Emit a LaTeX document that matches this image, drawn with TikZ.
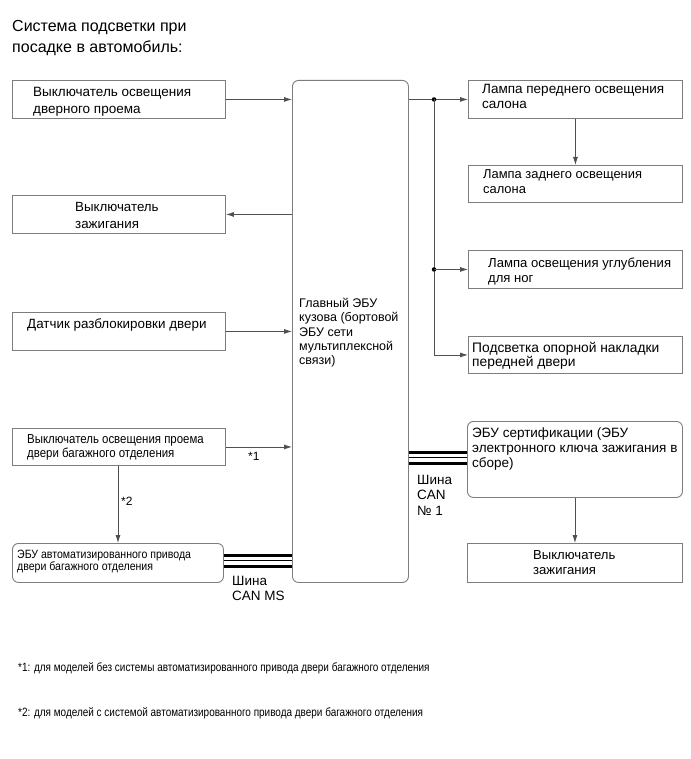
\documentclass[tikz,border=0pt]{standalone}
\usepackage{fontspec}
\setmainfont{Liberation Sans}
\newfontfamily\narrowfont[FakeStretch=0.88]{Liberation Sans}
\newfontfamily\notefont[FakeStretch=0.83]{Liberation Sans}
\usetikzlibrary{arrows.meta}
\definecolor{boxgray}{RGB}{125,125,125}
\definecolor{linegray}{RGB}{80,80,80}
\begin{document}
\begin{tikzpicture}[x=1pt,y=-1pt,
  box/.style={draw=boxgray, line width=0.9pt, anchor=north west, inner sep=0pt},
  rbox/.style={box, rounded corners=6pt},
  txt/.style={anchor=north west, inner sep=0pt, align=left, yshift=-1.5pt, font=\fontsize{13.5}{15}\selectfont},
  arr/.style={draw=linegray, line width=0.8pt, -{Latex[length=8pt,width=5pt]}},
  ln/.style={draw=linegray, line width=0.8pt},
  busthick/.style={draw=black, line width=3pt},
  busthin/.style={draw=black, line width=1pt},
  dot/.style={circle, fill=black, inner sep=0pt, minimum size=4.5pt}
]
\useasboundingbox[fill=white] (0,0) rectangle (690,759);

% title
\node[txt, font=\fontsize{16}{21.5}\selectfont] (title) at (12,18.3) {Система подсветки при\\посадке в автомобиль:};

% left boxes
\node[box, minimum width=213pt, minimum height=38pt] (b1) at (12,80) {};
\node[txt, font=\fontsize{13.5}{17}\selectfont] (b1t) at (33,85.3) {Выключатель освещения\\дверного проема};

\node[box, minimum width=213pt, minimum height=38pt] (li) at (12,195) {};
\node[txt, font=\fontsize{13.3}{17}\selectfont] (lit) at (75,200.4) {Выключатель\\зажигания};

\node[box, minimum width=213pt, minimum height=38pt] (du) at (12,312) {};
\node[txt, font=\fontsize{13.4}{15}\selectfont] (dut) at (27,317.4) {Датчик разблокировки двери};

\node[box, minimum width=213pt, minimum height=37pt] (lg) at (12,428) {};
\node[txt, font=\narrowfont\fontsize{13}{14}\selectfont] (lgt) at (27,432.5) {Выключатель освещения проема\\двери багажного отделения};

\node[rbox, minimum width=211pt, minimum height=39pt] (pd) at (12,543) {};
\node[txt, font=\narrowfont\fontsize{12}{12.5}\selectfont] (pdt) at (17,548) {ЭБУ автоматизированного привода\\двери багажного отделения};

% central ECU
\node[rbox, minimum width=116pt, minimum height=502pt] (ecu) at (292,80) {};
\node[txt, font=\fontsize{12.5}{14.3}\selectfont] (ecut) at (299,296.7) {Главный ЭБУ\\кузова (бортовой\\ЭБУ сети\\мультиплексной\\связи)};

% right boxes
\node[box, minimum width=214pt, minimum height=38pt] (lf) at (468,80) {};
\node[txt, font=\fontsize{13.5}{15}\selectfont] (lft) at (482,82.3) {Лампа переднего освещения\\салона};

\node[box, minimum width=214pt, minimum height=37pt] (lr) at (468,165) {};
\node[txt, font=\fontsize{12.9}{15}\selectfont] (lrt) at (483,167.6) {Лампа заднего освещения\\салона};

\node[box, minimum width=214pt, minimum height=38pt] (fw) at (468,250) {};
\node[txt, font=\fontsize{13.1}{15}\selectfont] (fwt) at (488,256.5) {Лампа освещения углубления\\для ног};

\node[box, minimum width=214pt, minimum height=37pt] (ps) at (468,336) {};
\node[txt, font=\fontsize{13.8}{14.5}\selectfont] (pst) at (472,340.2) {Подсветка опорной накладки\\передней двери};

\node[rbox, minimum width=215pt, minimum height=76pt] (ce) at (467,421) {};
\node[txt, font=\fontsize{13.5}{15}\selectfont] (cet) at (472,426.3) {ЭБУ сертификации (ЭБУ\\электронного ключа зажигания в\\сборе)};

\node[box, minimum width=215pt, minimum height=39pt] (ri) at (467,543) {};
\node[txt, font=\fontsize{13.1}{15}\selectfont] (rit) at (533,548.5) {Выключатель\\зажигания};

% connectors left
\draw[arr] (b1.east) -- (b1.east -| ecu.west);
\draw[arr] (li.east -| ecu.west) -- (li.east);
\draw[arr] (du.east) -- (du.east -| ecu.west);
\draw[arr] (lg.east) -- (lg.east -| ecu.west);
\node[txt, font=\fontsize{12}{14}\selectfont] (s1) at (248,450.5) {*1};
\coordinate (vx) at (118,0);
\draw[arr] (vx |- lg.south) -- (vx |- pd.north);
\node[txt, font=\fontsize{12}{14}\selectfont] (s2) at (121,495.5) {*2};

% connectors right
\coordinate (jx) at (434,0);
\draw[arr] (lf.west -| ecu.east) -- (lf.west);
\node[dot] (d1) at (jx |- lf.west) {};
\draw[ln] (d1.center) -- (jx |- ps.west);
\draw[arr] (jx |- ps.west) -- (ps.west);
\node[dot] (d2) at (jx |- fw.west) {};
\draw[arr] (d2.center) -- (fw.west);
\draw[arr] (lf.south) -- (lr.north);
\draw[arr] (ce.south) -- (ri.north);

% CAN MS bus
\coordinate (m1) at (0,555.5);
\coordinate (m2) at (0,560.5);
\coordinate (m3) at (0,566);
\draw[busthick] (pd.east |- m1) -- (ecu.west |- m1);
\draw[busthin] (pd.east |- m2) -- (ecu.west |- m2);
\draw[busthick] (pd.east |- m3) -- (ecu.west |- m3);
\node[txt, font=\fontsize{13.5}{15.5}\selectfont] (canms) at (232,574.3) {Шина\\CAN MS};

% CAN 1 bus
\coordinate (c1) at (0,452);
\coordinate (c2) at (0,457.5);
\coordinate (c3) at (0,463);
\draw[busthick] (ecu.east |- c1) -- (ce.west |- c1);
\draw[busthin] (ecu.east |- c2) -- (ce.west |- c2);
\draw[busthick] (ecu.east |- c3) -- (ce.west |- c3);
\node[txt, font=\fontsize{13.5}{15.5}\selectfont] (can1) at (417,473.3) {Шина\\CAN\\№ 1};

% footnotes
\node[txt, font=\notefont\fontsize{12}{12}\selectfont] (f1) at (18,660.5) {*1: для моделей без системы автоматизированного привода двери багажного отделения};
\node[txt, font=\notefont\fontsize{12}{12}\selectfont] (f2) at (18,705.5) {*2: для моделей с системой автоматизированного привода двери багажного отделения};
\end{tikzpicture}
\end{document}
